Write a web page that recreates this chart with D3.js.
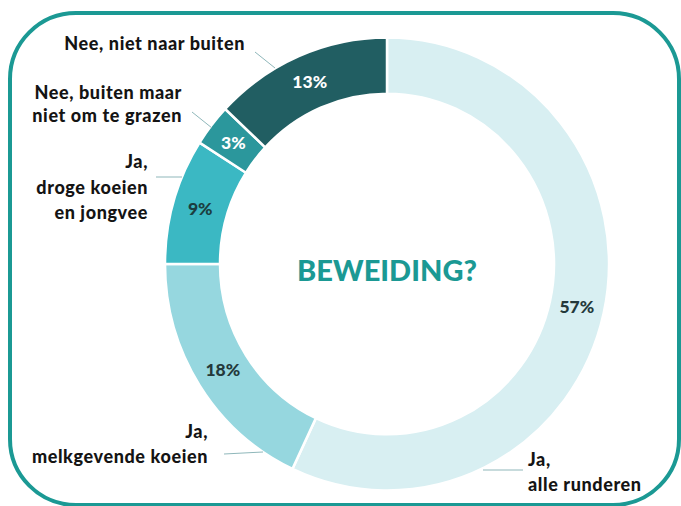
<!DOCTYPE html>
<meta charset="utf-8">
<style>
  body { margin: 0; background: #fff; }
  text { font-family: Lato, "Open Sans", sans-serif; }
</style>
<svg width="681" height="506"></svg>
<script src="https://d3js.org/d3.v7.min.js"></script>
<script>
// answers, values (%) and colours, clockwise from 12 o'clock
var categories = ["Ja, alle runderen", "Ja, melkgevende koeien", "Ja, droge koeien en jongvee",
                  "Nee, buiten maar niet om te grazen", "Nee, niet naar buiten"];
var values = [57, 18, 9, 3, 13];
var colors = ["#d8eff2", "#96d7df", "#3bb8c3", "#2b979c", "#215e62"];
var pctColors = ["#24393b", "#24393b", "#1c3e40", "#ffffff", "#ffffff"];
var labelLines = [
  ["Ja,", "alle runderen"],
  ["Ja,", "melkgevende koeien"],
  ["Ja,", "droge koeien", "en jongvee"],
  ["Nee, buiten maar", "niet om te grazen"],
  ["Nee, niet naar buiten"]
];
var title = "BEWEIDING?";

// label placement (text only)
var labelPos = [
  {x: 528, y: 466, anchor: "start", gap: 25, lead: [[483, 470], [523, 470]]},
  {x: 208, y: 438, anchor: "end", gap: 25, lead: [[224, 454], [263, 452]]},
  {x: 148, y: 168, anchor: "end", gap: 25.5, lead: [[156, 177], [182, 177]]},
  {x: 182, y: 99, anchor: "end", gap: 22.5, lead: [[192, 112], [212, 128]]},
  {x: 245, y: 50, anchor: "end", gap: 25, lead: [[255, 52], [275, 68]]}
];

var svg = d3.select("svg"),
    width = +svg.attr("width"),
    height = +svg.attr("height");

var cx = 387, cy = 264, R = 222, r = 167;

// frame
svg.append("rect")
    .attr("x", 10).attr("y", 13)
    .attr("width", 669).attr("height", 492)
    .attr("rx", 66).attr("ry", 66)
    .attr("fill", "none")
    .attr("stroke", "#1b9994")
    .attr("stroke-width", 4);

var pie = d3.pie().sort(null).value(function(d) { return d; });
var arcs = pie(values);
var arc = d3.arc().innerRadius(r).outerRadius(R);
var mid = d3.arc().innerRadius((r + R) / 2).outerRadius((r + R) / 2);

var g = svg.append("g")
    .attr("transform", "translate(" + cx + "," + cy + ") scale(1,1.02)");

g.selectAll("path")
  .data(arcs)
  .enter().append("path")
    .attr("d", arc)
    .attr("fill", function(d, i) { return colors[i]; })
    .attr("stroke", "#fff")
    .attr("stroke-width", 2.5);

// percentages
var pct = svg.append("g").attr("transform", "translate(" + cx + "," + cy + ")");
pct.selectAll("text")
  .data(arcs)
  .enter().append("text")
    .attr("transform", function(d) {
      var c = mid.centroid(d);
      return "translate(" + c[0] + "," + (c[1] * 1.02) + ")";
    })
    .attr("text-anchor", "middle")
    .attr("dy", "0.35em")
    .attr("font-size", 17.5)
    .attr("font-weight", 900)
    .attr("fill", function(d, i) { return pctColors[i]; })
    .text(function(d) { return d.data + "%"; });

// title
svg.append("text")
    .attr("x", cx).attr("y", cy + 7)
    .attr("dy", "0.35em")
    .attr("text-anchor", "middle")
    .attr("font-size", 29)
    .attr("font-weight", 900)
    .attr("fill", "#1b9994")
    .text(title);

// leader lines and labels
var line = d3.line();
labelPos.forEach(function(p, i) {
  svg.append("path")
      .attr("d", line(p.lead))
      .attr("fill", "none")
      .attr("stroke", "#8fb7ba")
      .attr("stroke-width", 1);
  var t = svg.append("text")
      .attr("x", p.x).attr("y", p.y)
      .attr("text-anchor", p.anchor)
      .attr("font-size", 18)
      .attr("font-weight", 900)
      .attr("letter-spacing", 0.6)
      .attr("fill", "#141414");
  t.selectAll("tspan")
    .data(labelLines[i])
    .enter().append("tspan")
      .attr("x", p.x)
      .attr("dy", function(d, j) { return j ? p.gap : 0; })
      .text(function(d) { return d; });
});
</script>
